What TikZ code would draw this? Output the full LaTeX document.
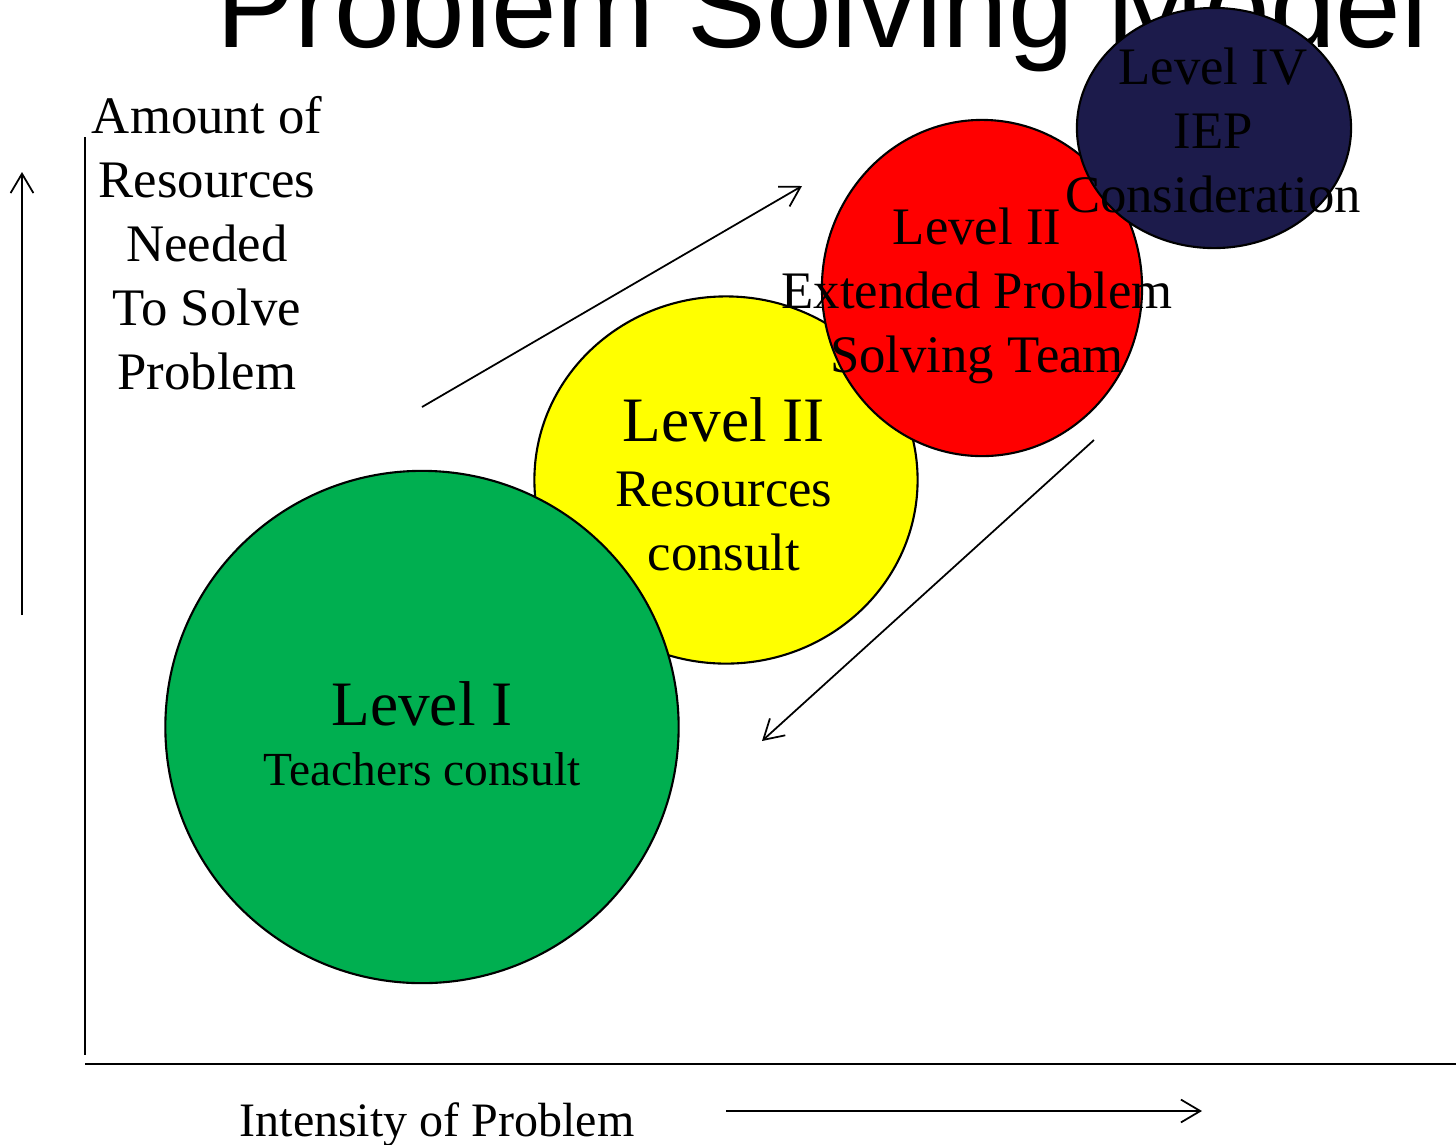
\documentclass[tikz,border=0pt]{standalone}
\usepackage{fontspec}
\setmainfont{Liberation Serif}
\newfontfamily\titlefont{Liberation Sans}
\usepackage{xcolor}
\usepackage{tikz}
\usetikzlibrary{shapes.geometric, arrows.meta, positioning, calc}

\definecolor{lvlgreen}{HTML}{00AF50}
\definecolor{lvlyellow}{HTML}{FFFF00}
\definecolor{lvlred}{HTML}{FF0000}
\definecolor{lvlnavy}{HTML}{1C1B4B}

\newcommand{\txbig}{\fontsize{18}{20}\selectfont}
\newcommand{\txmid}{\fontsize{15}{18.2}\selectfont}
\newcommand{\txsmall}{\fontsize{13.5}{16}\selectfont}

\begin{document}
\begin{tikzpicture}[
  x=0.01cm, y=-0.01cm,
  lvl/.style  = {ellipse, draw=black, line width=0.6pt, inner sep=0pt},
  txt/.style  = {align=center, inner sep=0pt, text=black, font=\txmid},
  axis/.style = {line width=0.6pt, black},
  arr/.style  = {-{Straight Barb[length=5.5pt, width=6.5pt]}, line width=0.5pt, black},
]
  \useasboundingbox (0,0) rectangle (1456,1144);

  % title, cut off by the page edge
  \node[anchor=base, inner sep=0pt, font=\titlefont\fontsize{33.5}{36}\selectfont] (title) at (822,47) {Problem Solving Model};

  % levels
  \node[lvl, fill=lvlyellow, minimum width=3.83cm, minimum height=3.67cm] (lvltwo) at (726,480) {};
  \node[lvl, fill=lvlgreen, minimum width=5.13cm, minimum height=5.12cm] (lvlone) at (422,727) {};
  \node[lvl, fill=lvlred, minimum width=3.2cm, minimum height=3.36cm] (lvlthree) at (982,288) {};
  \node[lvl, fill=lvlnavy, minimum width=2.74cm, minimum height=2.4cm] (lvlfour) at (1214,128) {};

  \node[txt] (lvlonetext) at (422,734) {{\txbig Level I}\\[-1pt]{\txsmall Teachers consult}};
  \node[txt] (lvltwotext) at (724,484) {{\txbig Level II}\\[0.4pt]Resources\\consult};
  \node[txt] (lvlthreetext) at (977,296) {Level II\\Extended Problem\\Solving Team};
  \node[txt] (lvlfourtext) at (1213,130) {Level IV\\IEP\\Consideration};

  % axes
  \coordinate (origin) at (85,1064);
  \coordinate (ytop) at (85,137);
  \coordinate (xend) at (1456,1064);
  \draw[axis] (ytop) -- (85,1055);
  \draw[axis] (origin) -- (xend);

  \node[txt] (ylabel) at (207,243) {Amount of\\Resources\\Needed\\To Solve\\Problem};
  \node[txt, anchor=base, font=\fontsize{13.65}{16}\selectfont] (xlabel) at (437,1136) {Intensity of Problem};

  % direction arrows
  \coordinate (upfrom) at (22,615);
  \coordinate (upto) at (22,172);
  \coordinate (rightfrom) at (726,1111);
  \coordinate (rightto) at (1202,1111);
  \coordinate (risefrom) at (422,407);
  \coordinate (riseto) at (802,186);
  \coordinate (fallfrom) at (1094,440);
  \coordinate (fallto) at (762,741);

  \draw[arr] (upfrom) -- (upto);
  \draw[arr] (rightfrom) -- (rightto);
  \draw[arr] (risefrom) -- (riseto);
  \draw[arr] (fallfrom) -- (fallto);
\end{tikzpicture}
\end{document}
